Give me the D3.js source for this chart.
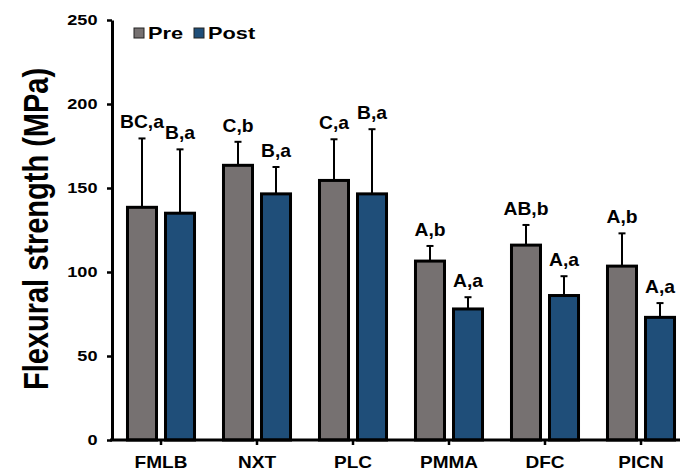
<!DOCTYPE html>
<html>
<head>
<meta charset="utf-8">
<script src="https://cdn.jsdelivr.net/npm/d3@7"></script>
<style>
  html, body { margin: 0; padding: 0; background: #fff; }
  svg { display: block; font-family: Arial, "Liberation Sans", sans-serif; font-weight: bold; }
</style>
</head>
<body>
<svg id="chart" width="680" height="473"></svg>
<script>
// Flexural strength of six materials before and after ageing (mean + SD)
const categories = ["FMLB", "NXT", "PLC", "PMMA", "DFC", "PICN"];
const groups = ["Pre", "Post"];
const preMean  = [138.5, 163.5, 154.5, 106.5, 116, 103.5];
const preSD    = [41,    14,    24.5,  9,     12,  19.5];
const postMean = [135,   146.5, 146.5, 78,    86,  73];
const postSD   = [38,    16,    38.5,  7,     11.5, 8.5];
const preLetters  = ["BC,a", "C,b", "C,a", "A,b", "AB,b", "A,b"];
const postLetters = ["B,a",  "B,a", "B,a", "A,a", "A,a",  "A,a"];
const yTicks = [0, 50, 100, 150, 200, 250];
const colors = { Pre: "#767171", Post: "#1f4e79" };

// Glyphs are drawn slightly widened horizontally
const WIDE = 1.25;

const svg = d3.select("#chart");

const y = d3.scaleLinear().domain([0, 250]).range([440, 20]);
const x0 = d3.scaleBand().domain(categories).range([113, 689]).padding(0);
const x1 = d3.scaleBand().domain(groups).range([0, x0.bandwidth()])
  .paddingInner(0.2368).paddingOuter(0.381);

const rows = categories.map((c, i) => ({
  cat: c,
  bars: [
    { g: "Pre",  mean: preMean[i],  sd: preSD[i],  label: preLetters[i] },
    { g: "Post", mean: postMean[i], sd: postSD[i], label: postLetters[i] }
  ]
}));

const cx = d => x1(d.g) + x1.bandwidth() / 2;

// Bars with error bars and significance letters
const cat = svg.selectAll("g.cat").data(rows).join("g")
  .attr("class", "cat")
  .attr("transform", d => `translate(${x0(d.cat)},0)`);

const bar = cat.selectAll("g.bar").data(d => d.bars).join("g").attr("class", "bar");

bar.append("line")
  .attr("x1", cx).attr("x2", cx)
  .attr("y1", d => y(d.mean))
  .attr("y2", d => y(d.mean + d.sd))
  .attr("stroke", "#000").attr("stroke-width", 2);

bar.append("line")
  .attr("x1", d => cx(d) - 3.5)
  .attr("x2", d => cx(d) + 3.5)
  .attr("y1", d => y(d.mean + d.sd))
  .attr("y2", d => y(d.mean + d.sd))
  .attr("stroke", "#000").attr("stroke-width", 2);

bar.append("rect")
  .attr("x", d => x1(d.g))
  .attr("width", x1.bandwidth())
  .attr("y", d => y(d.mean))
  .attr("height", d => y(0) - y(d.mean))
  .attr("fill", d => colors[d.g])
  .attr("stroke", "#000").attr("stroke-width", 3);

bar.append("text")
  .attr("transform", d => `translate(${cx(d)},${y(d.mean + d.sd) - 10}) scale(1.1,1)`)
  .attr("text-anchor", "middle")
  .attr("font-size", 17.5)
  .attr("fill", "#000")
  .text(d => d.label);

// Y axis
const yAxis = svg.append("g")
  .attr("transform", "translate(112,0)")
  .call(d3.axisLeft(y).tickValues(yTicks).tickSize(5).tickPadding(0).tickSizeOuter(0));
yAxis.select(".domain").attr("stroke", "#000").attr("stroke-width", 3);
yAxis.selectAll(".tick line").attr("stroke", "#000").attr("stroke-width", 2.5);
yAxis.selectAll(".tick text")
  .attr("x", 0)
  .attr("transform", `translate(-14.5,0) scale(${WIDE},1)`)
  .attr("font-size", 14.5).attr("font-family", "Arial, 'Liberation Sans', sans-serif")
  .attr("font-weight", "bold").attr("fill", "#000");

// X axis
const xAxis = svg.append("g")
  .attr("transform", `translate(0,${y(0)})`)
  .call(d3.axisBottom(x0).tickSize(5).tickPadding(0).tickSizeOuter(0));
xAxis.select(".domain").attr("stroke", "#000").attr("stroke-width", 3)
  .attr("d", "M110,0H680");
xAxis.selectAll(".tick line").attr("stroke", "#000").attr("stroke-width", 2.5);
xAxis.selectAll(".tick text")
  .attr("y", 0).attr("dy", 0)
  .attr("transform", "translate(0,28) scale(1.12,1)")
  .attr("font-size", 17).attr("font-family", "Arial, 'Liberation Sans', sans-serif")
  .attr("font-weight", "bold").attr("fill", "#000");

// Y axis title
svg.append("text")
  .attr("transform", "translate(48,229) scale(1.2,1) rotate(-90)")
  .attr("text-anchor", "middle")
  .attr("font-size", 29)
  .attr("fill", "#000")
  .text("Flexural strength (MPa)");

// Legend
const legendX = { Pre: 134, Post: 194 };
const legend = svg.selectAll("g.legend").data(groups).join("g")
  .attr("class", "legend")
  .attr("transform", g => `translate(${legendX[g]},28)`);
legend.append("rect")
  .attr("width", 10).attr("height", 10)
  .attr("fill", g => colors[g])
  .attr("stroke", "#222").attr("stroke-width", 1);
legend.append("text")
  .attr("transform", "translate(14,11) scale(1.28,1)")
  .attr("font-size", 17)
  .attr("fill", "#000")
  .text(g => g);
</script>
</body>
</html>
